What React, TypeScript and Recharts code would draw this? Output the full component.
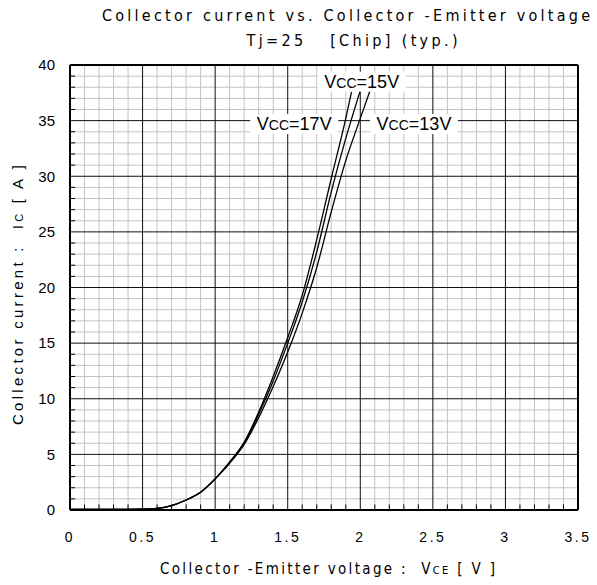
import React from 'react';
import { LineChart, Line, XAxis, YAxis, ReferenceLine, ReferenceDot } from 'recharts';

// Ic vs Vce curves
const vce17 = [0, 0.3, 0.5, 0.6, 0.7, 0.8, 0.9, 1.0, 1.1, 1.2, 1.3, 1.4, 1.5, 1.6, 1.7, 1.8, 1.9, 1.94];
const ic17 = [0.05, 0.05, 0.08, 0.15, 0.4, 0.9, 1.6, 2.8, 4.3, 6.1, 8.8, 12.0, 15.5, 19.3, 24.3, 29.8, 35.2, 37.6];

const vce15 = [0, 0.3, 0.5, 0.6, 0.7, 0.8, 0.9, 1.0, 1.1, 1.2, 1.3, 1.4, 1.5, 1.6, 1.7, 1.8, 1.9, 2.0];
const ic15 = [0.05, 0.05, 0.08, 0.15, 0.4, 0.9, 1.6, 2.8, 4.3, 6.0, 8.6, 11.6, 15.0, 18.7, 23.2, 28.6, 33.4, 37.7];

const vce13 = [0, 0.3, 0.5, 0.6, 0.7, 0.8, 0.9, 1.0, 1.1, 1.2, 1.3, 1.4, 1.5, 1.6, 1.7, 1.8, 1.9, 2.0, 2.07];
const ic13 = [0.05, 0.05, 0.08, 0.15, 0.4, 0.9, 1.6, 2.8, 4.2, 5.9, 8.3, 11.1, 14.2, 17.7, 21.8, 26.8, 31.4, 35.2, 37.8];

const xTicks = [0, 0.5, 1, 1.5, 2, 2.5, 3, 3.5];
const yTicks = [0, 5, 10, 15, 20, 25, 30, 35, 40];
const xMinor = [0.1, 0.2, 0.3, 0.4, 0.6, 0.7, 0.8, 0.9, 1.1, 1.2, 1.3, 1.4, 1.6, 1.7, 1.8, 1.9,
  2.1, 2.2, 2.3, 2.4, 2.6, 2.7, 2.8, 2.9, 3.1, 3.2, 3.3, 3.4];
const yMinor = [1, 2, 3, 4, 6, 7, 8, 9, 11, 12, 13, 14, 16, 17, 18, 19, 21, 22, 23, 24,
  26, 27, 28, 29, 31, 32, 33, 34, 36, 37, 38, 39];

const curveLabels = [
  { vcc: '15', vce: 2.01, ic: 38.5 },
  { vcc: '17', vce: 1.545, ic: 34.7 },
  { vcc: '13', vce: 2.37, ic: 34.7 },
];

const toPoints = (v: number[], ic: number[]) => v.map((x, i) => ({ v: x, ic: ic[i] }));

const series = [
  { name: 'Vcc=17V', data: toPoints(vce17, ic17) },
  { name: 'Vcc=15V', data: toPoints(vce15, ic15) },
  { name: 'Vcc=13V', data: toPoints(vce13, ic13) },
];

const FONT = "'Liberation Sans', Arial, sans-serif";
const NARROW = "'DejaVu Sans Condensed', 'Liberation Sans Narrow', 'Liberation Sans', Arial, sans-serif";

const LabelBox = (vcc: string) => (props: any) => {
  const { cx, cy } = props;
  return (
    <g>
      <rect x={cx - 44} y={cy - 10} width={88} height={20} fill="#fff" />
      <text x={cx} y={cy + 6} textAnchor="middle" fontFamily={FONT} fill="#000">
        <tspan fontSize={18}>V</tspan>
        <tspan fontSize={14}>CC</tspan>
        <tspan fontSize={18}>={vcc}V</tspan>
      </text>
    </g>
  );
};

const App: React.FC = () => {
  return (
    <div style={{ position: 'absolute', left: 0, top: 0, width: 597, height: 585, background: '#fff' }}>
      <LineChart width={597} height={585} margin={{ top: 65, right: 19, left: 30, bottom: 35 }}>
        <XAxis
          type="number"
          dataKey="v"
          domain={[0, 3.5]}
          ticks={xTicks}
          allowDataOverflow
          axisLine={false}
          tickLine={false}
          tickSize={0}
          tickMargin={22}
          height={40}
          tick={{ fill: '#000', fontSize: 14, fontFamily: FONT, letterSpacing: 2.5 }}
        />
        <YAxis
          type="number"
          dataKey="ic"
          domain={[0, 40]}
          ticks={yTicks}
          allowDataOverflow
          axisLine={false}
          tickLine={false}
          tickSize={0}
          tickMargin={15}
          width={40}
          tick={{ fill: '#000', fontSize: 15, fontFamily: FONT }}
        />

        {/* minor grid */}
        {xMinor.map((x) => (
          <ReferenceLine key={`xm-${x}`} x={x} stroke="#c4c4c4" strokeWidth={1} />
        ))}
        {yMinor.map((y) => (
          <ReferenceLine key={`ym-${y}`} y={y} stroke="#c4c4c4" strokeWidth={1} />
        ))}

        {/* minor ticks on the axes */}
        {xMinor.map((x) => (
          <ReferenceLine key={`xt-${x}`} segment={[{ x, y: 0 }, { x, y: 0.5 }]} stroke="#000" strokeWidth={1} />
        ))}
        {yMinor.map((y) => (
          <ReferenceLine key={`yt-${y}`} segment={[{ x: 0, y }, { x: 0.035, y }]} stroke="#000" strokeWidth={1} />
        ))}

        {/* major grid */}
        {xTicks.slice(1, -1).map((x) => (
          <ReferenceLine key={`xM-${x}`} x={x} stroke="#111" strokeWidth={1} />
        ))}
        {yTicks.slice(1, -1).map((y) => (
          <ReferenceLine key={`yM-${y}`} y={y} stroke="#111" strokeWidth={1} />
        ))}

        {/* frame */}
        <ReferenceLine x={0} stroke="#000" strokeWidth={2} />
        <ReferenceLine x={3.5} stroke="#000" strokeWidth={2} />
        <ReferenceLine y={0} stroke="#000" strokeWidth={2} />
        <ReferenceLine y={40} stroke="#000" strokeWidth={2} />

        {series.map((s) => (
          <Line
            key={s.name}
            data={s.data}
            dataKey="ic"
            type="monotone"
            stroke="#000"
            strokeWidth={1.3}
            dot={false}
            isAnimationActive={false}
          />
        ))}

        {curveLabels.map((l) => (
          <ReferenceDot key={l.vcc} x={l.vce} y={l.ic} r={0} shape={LabelBox(l.vcc)} />
        ))}
      </LineChart>

      <svg
        width={597}
        height={585}
        style={{ position: 'absolute', left: 0, top: 0, pointerEvents: 'none' }}
      >
        <text x={346} y={21} textAnchor="middle" fontSize={16} fontFamily={NARROW}
          textLength={488} lengthAdjust="spacing" fill="#000">
          Collector current vs. Collector -Emitter voltage
        </text>
        <text x={352} y={46} textAnchor="middle" fontSize={16} fontFamily={NARROW}
          textLength={211} lengthAdjust="spacing" fill="#000" style={{ whiteSpace: 'pre' }}>
          {'Tj=25   [Chip] (typ.)'}
        </text>
        <text x={160} y={574} fontSize={15} fontFamily={NARROW}
          textLength={335} lengthAdjust="spacing" fill="#000" style={{ whiteSpace: 'pre' }}>
          {'Collector -Emitter voltage :  V'}
          <tspan fontSize={11}>CE</tspan>
          {' [ V ]'}
        </text>
        <text transform="translate(23,295) rotate(-90)" textAnchor="middle" fontSize={15}
          fontFamily={FONT} textLength={260} lengthAdjust="spacing" fill="#000" style={{ whiteSpace: 'pre' }}>
          {'Collector current :  I'}
          <tspan fontSize={11}>C</tspan>
          {' [ A ]'}
        </text>
      </svg>
    </div>
  );
};

export default App;
